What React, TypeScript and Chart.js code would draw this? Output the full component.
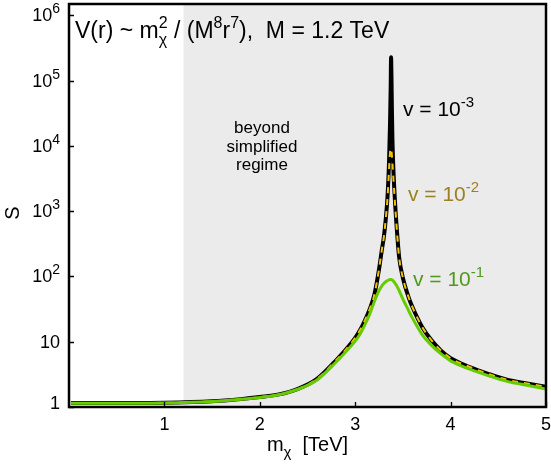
import React, { useEffect, useRef } from 'react';
import { Chart, registerables } from 'chart.js';

Chart.register(...registerables);

// ---- data ----
const massTeV = [0.02, 0.5, 1.0, 1.5, 1.8, 2.0, 2.2, 2.4, 2.6, 2.8, 2.9, 3.0, 3.05, 3.1, 3.15, 3.2, 3.25, 3.28, 3.3, 3.32, 3.34, 3.355, 3.365, 3.372, 3.376, 3.38, 3.385, 3.39, 3.4, 3.42, 3.44, 3.46, 3.5, 3.56, 3.6, 3.7, 3.8, 3.9, 4.0, 4.2, 4.4, 4.6, 4.8, 5.0];
const sV1e3 = [1.15, 1.15, 1.16, 1.22, 1.32, 1.42, 1.56, 1.9, 2.7, 5.2, 7.5, 11.5, 15, 21, 31, 52, 130, 260, 400, 750, 1800, 6000, 22000, 80000, 230000, 120000, 35000, 13000, 4500, 1200, 450, 200, 95, 48, 34, 17, 10.5, 7.3, 5.6, 4.1, 3.2, 2.6, 2.3, 2.04];
const sV1e2 = [1.15, 1.15, 1.16, 1.22, 1.32, 1.42, 1.56, 1.9, 2.7, 5.2, 7.5, 11.5, 15, 21, 31, 52, 130, 260, 400, 750, 1700, 4500, 8000, 9100, 9100, 8500, 7000, 5500, 3200, 1150, 440, 200, 95, 48, 34, 17, 10.5, 7.3, 5.6, 4.1, 3.2, 2.6, 2.3, 2.04];
const sV1e1 = [1.14, 1.14, 1.15, 1.21, 1.31, 1.4, 1.54, 1.87, 2.6, 4.9, 7.0, 10.2, 13, 18, 26, 41, 61, 72, 78, 83, 87, 89, 90, 90, 90, 89.5, 89, 88, 85, 78, 70, 61, 45, 30, 23, 13, 8.8, 6.5, 5.1, 3.8, 3.0, 2.45, 2.15, 1.88];
const xTickValues = [1, 2, 3, 4, 5];
const yTickExponents = [0, 1, 2, 3, 4, 5, 6];
const regimeEdgeTeV = 1.2;
const xRange = [0, 5];
const yRange = [1, 1.5e6];

const FONT = '"Liberation Sans", Arial, Helvetica, sans-serif';

type Seg = { t?: string; size?: number; dy?: number; sup?: string; sub?: string };

function segWidth(ctx: CanvasRenderingContext2D, s: Seg, base: number): number {
  if (s.sup !== undefined || s.sub !== undefined) {
    const sz = s.size ?? base * 0.72;
    ctx.font = `${sz}px ${FONT}`;
    return Math.max(ctx.measureText(s.sup ?? '').width, ctx.measureText(s.sub ?? '').width);
  }
  ctx.font = `${s.size ?? base}px ${FONT}`;
  return ctx.measureText(s.t ?? '').width;
}

function drawRich(ctx: CanvasRenderingContext2D, x: number, y: number, segs: Seg[], base: number, color: string, align: 'left' | 'center' | 'right' = 'left', supDy = -8, subDy = 6) {
  const total = segs.reduce((a, s) => a + segWidth(ctx, s, base), 0);
  let cx = align === 'left' ? x : align === 'center' ? x - total / 2 : x - total;
  ctx.save();
  ctx.fillStyle = color;
  ctx.textAlign = 'left';
  ctx.textBaseline = 'alphabetic';
  for (const s of segs) {
    const w = segWidth(ctx, s, base);
    if (s.sup !== undefined || s.sub !== undefined) {
      const sz = s.size ?? base * 0.72;
      ctx.font = `${sz}px ${FONT}`;
      if (s.sup) ctx.fillText(s.sup, cx, y + supDy);
      if (s.sub) ctx.fillText(s.sub, cx, y + subDy);
    } else {
      ctx.font = `${s.size ?? base}px ${FONT}`;
      ctx.fillText(s.t ?? '', cx, y + (s.dy ?? 0));
    }
    cx += w;
  }
  ctx.restore();
}

const decorPlugin = {
  id: 'decor',
  beforeDatasetsDraw(chart: any) {
    const { ctx, chartArea, scales } = chart;
    const x0 = scales.x.getPixelForValue(regimeEdgeTeV);
    ctx.save();
    ctx.fillStyle = '#ebebeb';
    ctx.fillRect(x0, chartArea.top, chartArea.right - x0, chartArea.bottom - chartArea.top);
    ctx.restore();
  },
  afterDatasetsDraw(chart: any) {
    const { ctx, chartArea, scales } = chart;
    const { left, right, top, bottom } = chartArea;
    const xs = scales.x;
    const ys = scales.y;
    ctx.save();
    // frame
    ctx.strokeStyle = '#000';
    ctx.lineWidth = 2.5;
    ctx.strokeRect(left, top, right - left, bottom - top);
    // ticks
    ctx.lineWidth = 1.3;
    ctx.beginPath();
    for (const v of xTickValues) {
      const px = Math.round(xs.getPixelForValue(v)) + 0.5;
      ctx.moveTo(px, bottom);
      ctx.lineTo(px, bottom - 5);
    }
    for (const e of yTickExponents) {
      const py = Math.round(ys.getPixelForValue(Math.pow(10, e))) + 0.5;
      ctx.moveTo(left, py);
      ctx.lineTo(left + 5, py);
    }
    ctx.stroke();
    ctx.restore();

    // y tick labels
    for (const e of yTickExponents) {
      const py = ys.getPixelForValue(Math.pow(10, e));
      const segs: Seg[] = e === 0 ? [{ t: '1' }] : e === 1 ? [{ t: '10' }] : [{ t: '10' }, { sup: String(e), size: 14 }];
      const yy = e === 0 ? py + 2 : py + 6;
      drawRich(ctx, 60, yy, segs, 18, '#000', 'right', -8);
    }
    // x tick labels
    for (const v of xTickValues) {
      drawRich(ctx, xs.getPixelForValue(v), 430, [{ t: String(v) }], 18, '#000', 'center');
    }
    // axis titles
    drawRich(ctx, (left + right) / 2, 451, [{ t: 'm' }, { sub: 'χ', size: 15 }, { t: '  [TeV]' }], 20, '#000', 'center', -8, 6);
    ctx.save();
    ctx.translate(19, 213);
    ctx.rotate(-Math.PI / 2);
    drawRich(ctx, 0, 0, [{ t: 'S' }], 20, '#000', 'center');
    ctx.restore();

    // annotations
    drawRich(ctx, 75, 38, [
      { t: 'V(r) ~ m' }, { sup: '2', sub: 'χ', size: 16 }, { t: ' / (M' }, { sup: '8', size: 16 }, { t: 'r' }, { sup: '7', size: 16 }, { t: '),  M = 1.2 TeV' },
    ], 23, '#000', 'left', -10, 7);

    const cx = 262;
    drawRich(ctx, cx, 133, [{ t: 'beyond' }], 17, '#000', 'center');
    drawRich(ctx, cx, 152, [{ t: 'simplified' }], 17, '#000', 'center');
    drawRich(ctx, cx, 170, [{ t: 'regime' }], 17, '#000', 'center');

    drawRich(ctx, 403, 116, [{ t: 'v = 10' }, { sup: '-3', size: 15 }], 21, '#000', 'left', -9);
    drawRich(ctx, 408, 201, [{ t: 'v = 10' }, { sup: '-2', size: 15 }], 21, '#9a8222', 'left', -9);
    drawRich(ctx, 413, 286, [{ t: 'v = 10' }, { sup: '-1', size: 15 }], 21, '#4f9a1c', 'left', -9);
  },
};

export default function App() {
  const ref = useRef<HTMLCanvasElement | null>(null);
  useEffect(() => {
    document.body.style.margin = '0';
    const canvas = ref.current;
    if (!canvas) return;
    const pts = (arr: number[]) => massTeV.map((m, i) => ({ x: m, y: arr[i] }));
    const chart = new Chart(canvas, {
      type: 'line',
      data: {
        datasets: [
          { label: 'v = 1e-1', data: pts(sV1e1), borderColor: '#66cc00', borderWidth: 3, pointRadius: 0, cubicInterpolationMode: 'monotone', order: 0 },
          { label: 'v = 1e-2', data: pts(sV1e2), borderColor: '#f2c400', borderWidth: 2, borderDash: [6, 6], pointRadius: 0, cubicInterpolationMode: 'monotone', order: 1 },
          { label: 'v = 1e-3', data: pts(sV1e3), borderColor: '#000000', borderWidth: 4, pointRadius: 0, cubicInterpolationMode: 'monotone', order: 2 },
        ],
      } as any,
      options: {
        responsive: false,
        animation: false,
        devicePixelRatio: 1,
        layout: { padding: { left: 69, right: 5, top: 4, bottom: 59 } },
        plugins: { legend: { display: false }, tooltip: { enabled: false } },
        scales: {
          x: { type: 'linear', min: xRange[0], max: xRange[1], display: false },
          y: { type: 'logarithmic', min: yRange[0], max: yRange[1], display: false },
        },
      } as any,
      plugins: [decorPlugin],
    });
    return () => chart.destroy();
  }, []);
  return (
    <div style={{ width: 551, height: 466 }}>
      <canvas ref={ref} width={551} height={466} style={{ display: 'block' }} />
    </div>
  );
}
